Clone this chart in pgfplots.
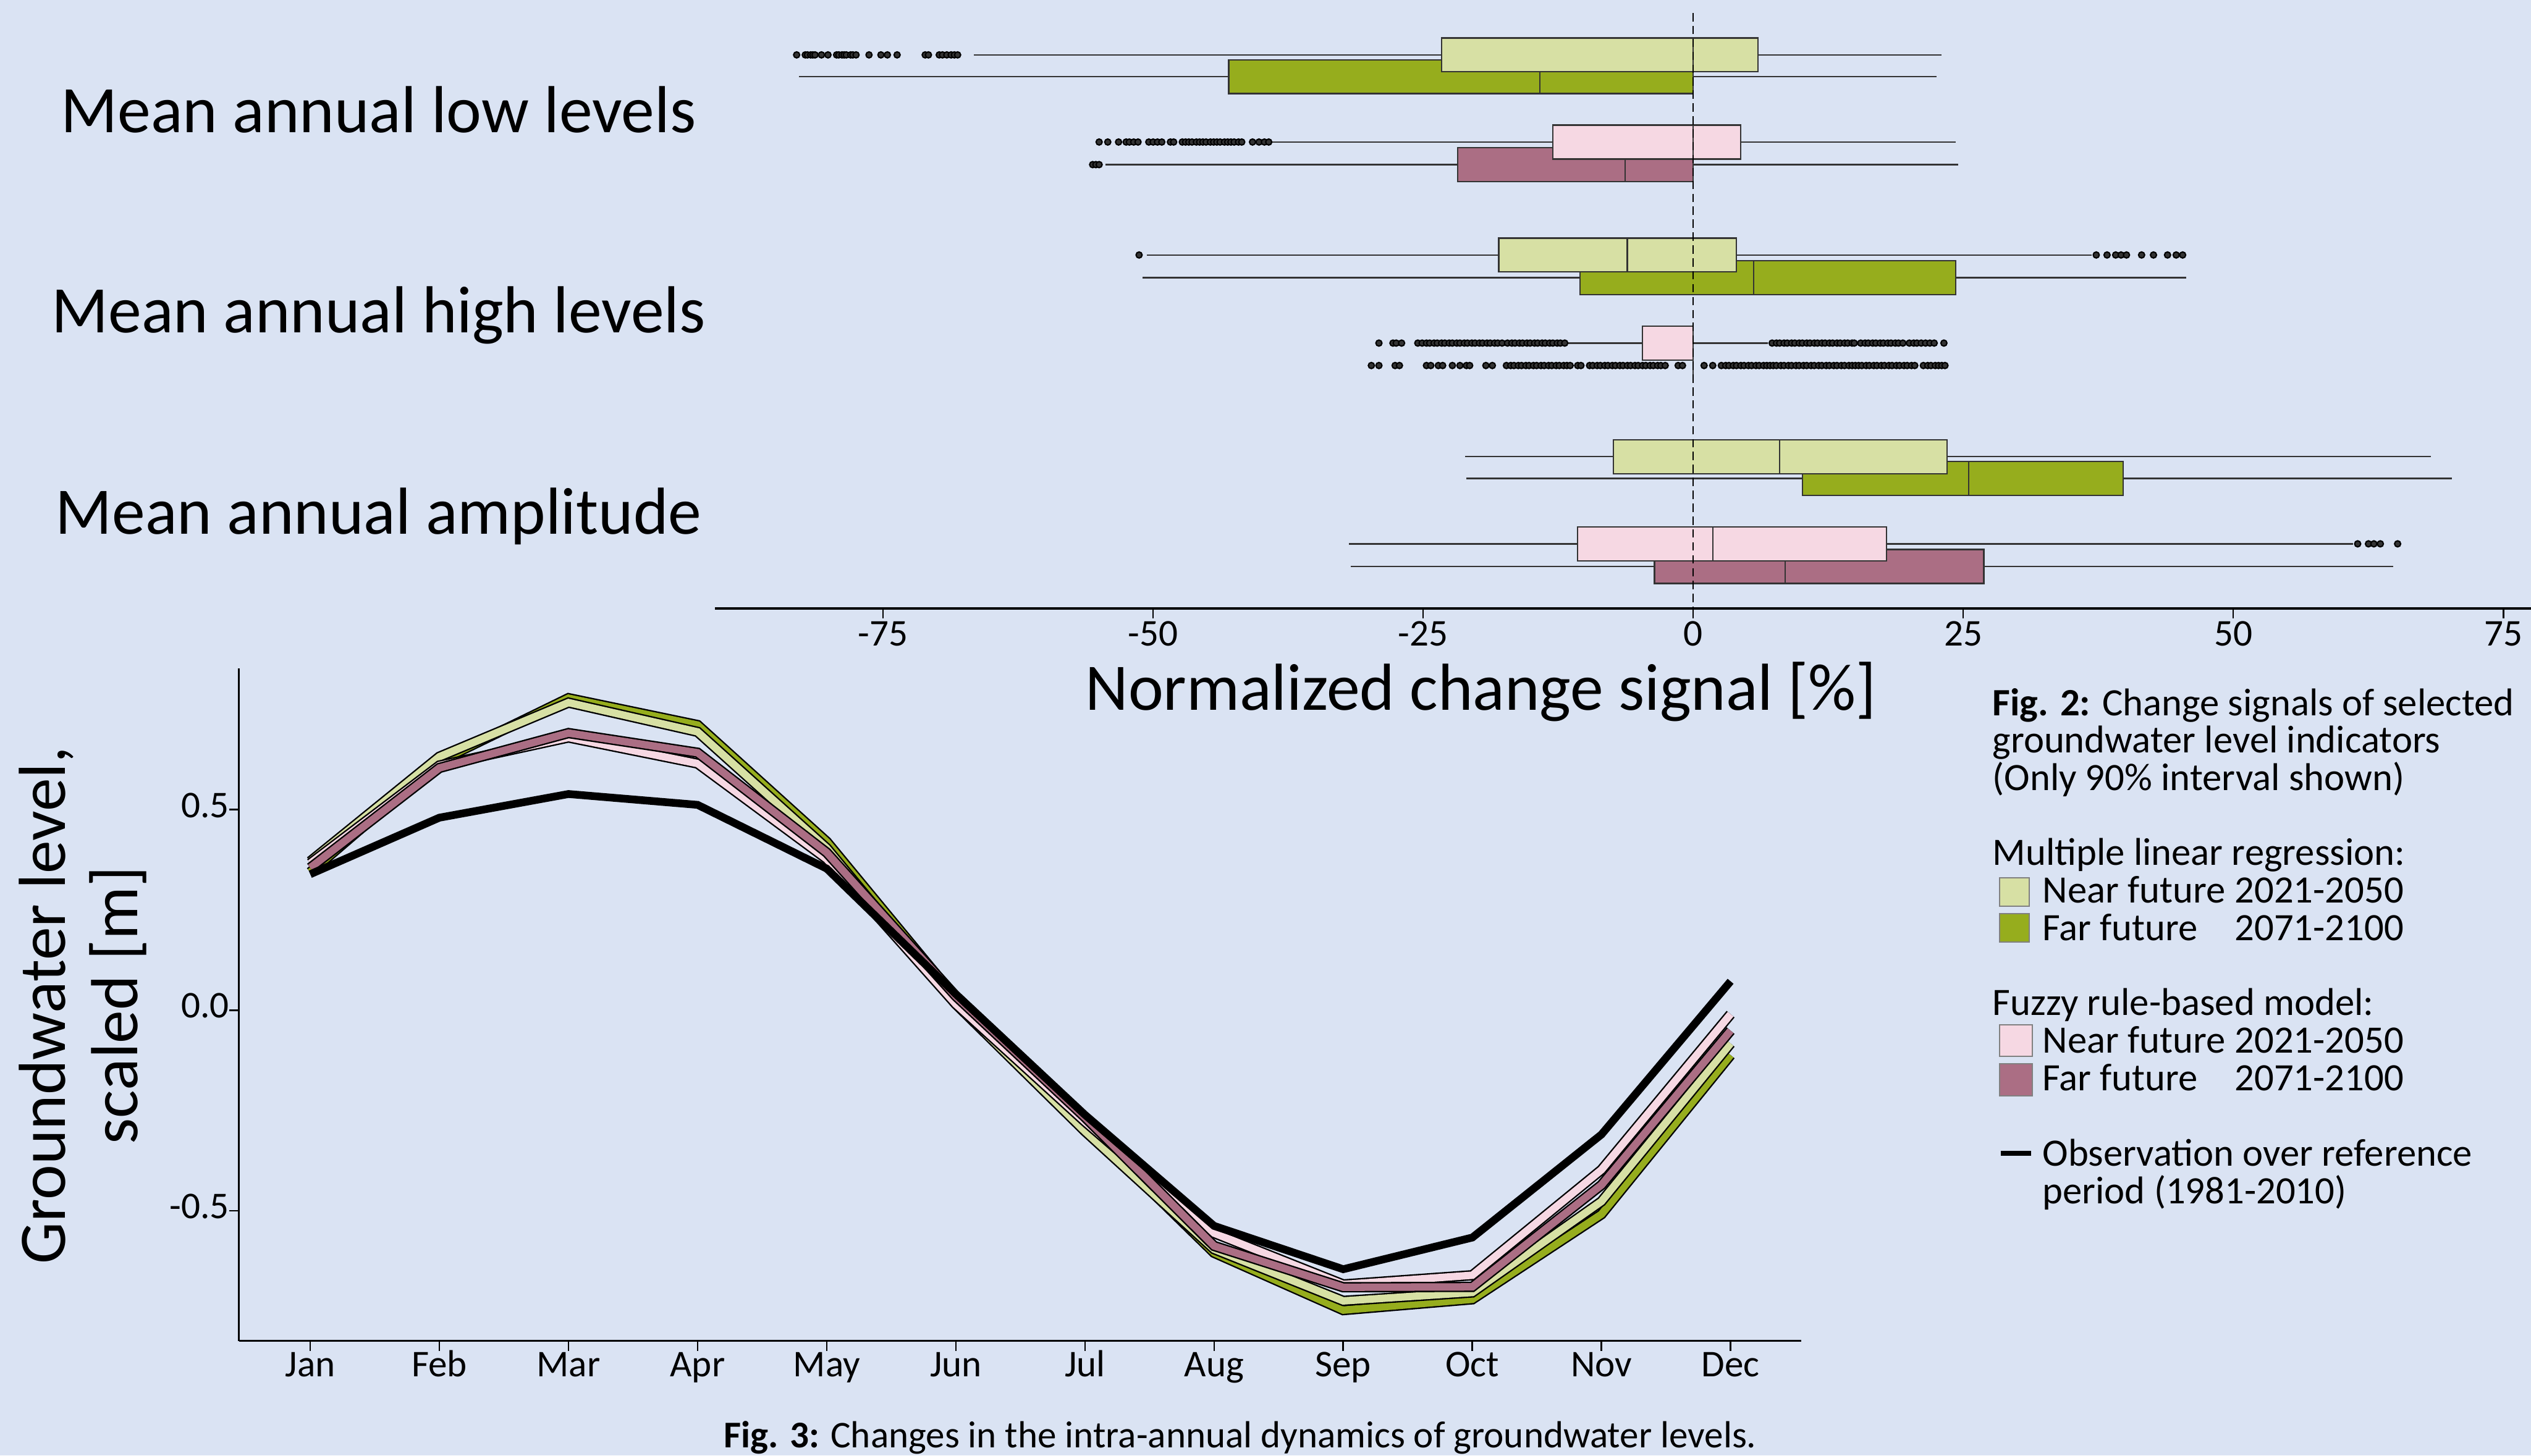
\documentclass[border=0pt]{standalone}
\usepackage{fontspec}
\setmainfont{Carlito}
\usepackage{pgfplots}
\pgfplotsset{compat=1.18}
\usepgfplotslibrary{statistics}
\definecolor{bg}{RGB}{218,227,243}
\definecolor{lgreen}{RGB}{215,224,164}
\definecolor{dgreen}{RGB}{150,173,29}
\definecolor{lpink}{RGB}{246,216,227}
\definecolor{mauve}{RGB}{171,110,132}
\definecolor{edge}{RGB}{51,51,51}
\newcommand{\bigfont}{\fontsize{20.6}{22}\selectfont}
\newcommand{\smallfont}{\fontsize{12}{11.5}\selectfont}
\newcommand{\tickfont}{\fontsize{11.7}{12}\selectfont}
\newcommand{\legbox}[3]{{\setlength{\fboxsep}{0pt}\setlength{\fboxrule}{0.4pt}\fcolorbox{gray}{#1}{\rule{0pt}{#3}\rule{#2}{0pt}}}}
\pgfplotsset{
  bx/.style={draw=edge, line width=0.45pt},
  outl/.style={only marks, mark=*, mark size=0.95pt, mark options={fill=edge, draw=none}},
}
\begin{document}
\begin{tikzpicture}
\begin{scope}[x=0.5pt,y=-0.5pt]
\fill[bg] (0,0) rectangle (1568,902);
\end{scope}

% ---------------- top panel: boxplots ----------------
\begin{axis}[
  at={(221.5pt,-188.5pt)}, anchor=south west,
  scale only axis, width=562.5pt, height=188.5pt,
  xmin=-90.55, xmax=77.55, ymin=-377, ymax=0,
  axis x line=bottom, axis y line=none,
  axis line style={-, line width=0.8pt, black},
  xtick={-75,-50,-25,0,25,50,75},
  xticklabels={-75,-50,-25,0,25,50,75},
  xticklabel style={font=\tickfont, yshift=2.5pt},
  tick align=outside, major tick length=3pt,
  tick style={black, line width=0.4pt},
]
% Mean annual low levels
\addplot[bx, fill=dgreen, boxplot prepared={draw position=-47.5, box extend=21, whisker extend=0,
  lower whisker=-82.8, lower quartile=-43.0, median=-14.2, upper quartile=0, upper whisker=22.5}] coordinates {};
\addplot[bx, fill=lgreen, boxplot prepared={draw position=-34, box extend=21, whisker extend=0,
  lower whisker=-66.6, lower quartile=-23.3, median=0, upper quartile=6.0, upper whisker=23.0}] coordinates {};
\addplot[bx, fill=mauve, boxplot prepared={draw position=-102, box extend=21, whisker extend=0,
  lower whisker=-54.4, lower quartile=-21.8, median=-6.3, upper quartile=0, upper whisker=24.5}] coordinates {};
\addplot[bx, fill=lpink, boxplot prepared={draw position=-88, box extend=21, whisker extend=0,
  lower whisker=-39.1, lower quartile=-13.0, median=0, upper quartile=4.4, upper whisker=24.3}] coordinates {};
% Mean annual high levels
\addplot[bx, fill=dgreen, boxplot prepared={draw position=-172, box extend=21, whisker extend=0,
  lower whisker=-51.0, lower quartile=-10.5, median=5.6, upper quartile=24.3, upper whisker=45.6}] coordinates {};
\addplot[bx, fill=lgreen, boxplot prepared={draw position=-158, box extend=21, whisker extend=0,
  lower whisker=-50.6, lower quartile=-18.0, median=-6.1, upper quartile=4.0, upper whisker=36.9}] coordinates {};
\addplot[bx, fill=mauve, boxplot prepared={draw position=-226.5, box extend=21, whisker extend=0,
  lower whisker=0, lower quartile=0, median=0, upper quartile=0, upper whisker=0}] coordinates {};
\addplot[bx, fill=lpink, boxplot prepared={draw position=-212.6, box extend=21, whisker extend=0,
  lower whisker=-11.6, lower quartile=-4.7, median=0, upper quartile=0, upper whisker=6.9}] coordinates {};
% Mean annual amplitude
\addplot[bx, fill=dgreen, boxplot prepared={draw position=-296.5, box extend=21, whisker extend=0,
  lower whisker=-21.0, lower quartile=10.1, median=25.5, upper quartile=39.8, upper whisker=70.2}] coordinates {};
\addplot[bx, fill=lgreen, boxplot prepared={draw position=-283, box extend=21, whisker extend=0,
  lower whisker=-21.1, lower quartile=-7.4, median=8.0, upper quartile=23.5, upper whisker=68.3}] coordinates {};
\addplot[bx, fill=mauve, boxplot prepared={draw position=-351, box extend=21, whisker extend=0,
  lower whisker=-31.7, lower quartile=-3.6, median=8.5, upper quartile=26.9, upper whisker=64.8}] coordinates {};
\addplot[bx, fill=lpink, boxplot prepared={draw position=-337, box extend=21, whisker extend=0,
  lower whisker=-31.9, lower quartile=-10.7, median=1.8, upper quartile=17.9, upper whisker=61.1}] coordinates {};

% outliers
\addplot[outl] coordinates {
(-83.0,-34) (-82.2,-34) (-82.0,-34) (-81.7,-34) (-81.5,-34) (-81.3,-34) (-80.7,-34) (-80.1,-34)
(-79.3,-34) (-79.1,-34) (-78.8,-34) (-78.6,-34) (-78.4,-34) (-78.0,-34) (-77.8,-34) (-77.5,-34)
(-76.3,-34) (-75.2,-34) (-74.6,-34) (-73.7,-34) (-71.1,-34) (-70.8,-34) (-69.8,-34) (-69.5,-34)
(-69.1,-34) (-68.7,-34) (-68.4,-34) (-68.1,-34)};
\addplot[outl] coordinates {
(-55.0,-88) (-54.2,-88) (-53.2,-88) (-52.5,-88) (-52.2,-88) (-51.8,-88) (-51.4,-88) (-50.4,-88)
(-50.0,-88) (-49.6,-88) (-49.2,-88) (-48.4,-88) (-48.1,-88) (-47.3,-88) (-47.0,-88) (-46.7,-88)
(-46.4,-88) (-46.0,-88) (-45.7,-88) (-45.4,-88) (-45.1,-88) (-44.7,-88) (-44.4,-88) (-44.1,-88)
(-43.8,-88) (-43.4,-88) (-43.1,-88) (-42.8,-88) (-42.5,-88) (-42.1,-88) (-41.8,-88) (-40.8,-88)
(-40.2,-88) (-39.7,-88) (-39.3,-88)};
\addplot[outl] coordinates {(-55.6,-102) (-55.3,-102) (-55.0,-102)};
\addplot[outl] coordinates {
(-51.3,-158) (37.3,-158) (38.3,-158) (39.1,-158) (39.6,-158) (40.1,-158) (41.5,-158) (42.6,-158)
(43.9,-158) (44.7,-158) (45.3,-158)};
\addplot[outl] coordinates {
(-29.1,-212.6) (-27.8,-212.6) (-27.5,-212.6) (-27.0,-212.6) (-25.5,-212.6) (-25.1,-212.6) (-24.7,-212.6)
(-24.4,-212.6) (-24.0,-212.6) (-23.7,-212.6) (-23.3,-212.6) (-23.0,-212.6) (-22.6,-212.6) (-22.3,-212.6)
(-21.9,-212.6) (-21.6,-212.6) (-21.2,-212.6) (-20.9,-212.6) (-20.5,-212.6) (-20.2,-212.6) (-19.8,-212.6)
(-19.5,-212.6) (-19.1,-212.6) (-18.8,-212.6) (-18.4,-212.6) (-18.1,-212.6) (-17.7,-212.6) (-17.2,-212.6)
(-16.8,-212.6) (-16.5,-212.6) (-16.1,-212.6) (-15.8,-212.6) (-15.4,-212.6) (-15.1,-212.6) (-14.7,-212.6)
(-14.4,-212.6) (-14.0,-212.6) (-13.7,-212.6) (-13.3,-212.6) (-13.0,-212.6) (-12.6,-212.6) (-12.3,-212.6)
(-11.9,-212.6)
(7.3,-212.6) (7.7,-212.6) (8.0,-212.6) (8.4,-212.6) (8.7,-212.6) (9.1,-212.6) (9.4,-212.6) (9.8,-212.6)
(10.1,-212.6) (10.5,-212.6) (10.8,-212.6) (11.2,-212.6) (11.5,-212.6) (11.9,-212.6) (12.2,-212.6)
(12.6,-212.6) (12.9,-212.6) (13.3,-212.6) (13.6,-212.6) (14.0,-212.6) (14.3,-212.6) (14.7,-212.6)
(14.9,-212.6) (15.5,-212.6) (15.9,-212.6) (16.2,-212.6) (16.6,-212.6) (16.9,-212.6) (17.3,-212.6)
(17.6,-212.6) (18.0,-212.6) (18.3,-212.6) (18.7,-212.6) (19.0,-212.6) (19.4,-212.6) (20.0,-212.6)
(20.4,-212.6) (20.7,-212.6) (21.1,-212.6) (21.5,-212.6) (21.9,-212.6) (22.3,-212.6) (23.2,-212.6)};
\addplot[outl] coordinates {
(-29.8,-226.5) (-29.1,-226.5) (-27.6,-226.5) (-27.2,-226.5) (-24.7,-226.5) (-24.3,-226.5) (-23.6,-226.5)
(-23.2,-226.5) (-22.3,-226.5) (-21.6,-226.5) (-21.0,-226.5) (-20.7,-226.5) (-19.2,-226.5) (-18.6,-226.5)
(-17.3,-226.5) (-16.9,-226.5) (-16.6,-226.5) (-16.2,-226.5) (-15.9,-226.5) (-15.5,-226.5) (-15.2,-226.5)
(-14.8,-226.5) (-14.5,-226.5) (-14.1,-226.5) (-13.8,-226.5) (-13.4,-226.5) (-13.1,-226.5) (-12.7,-226.5)
(-12.4,-226.5) (-12.0,-226.5) (-11.7,-226.5) (-11.4,-226.5) (-10.7,-226.5) (-10.4,-226.5) (-9.6,-226.5)
(-9.3,-226.5) (-8.9,-226.5) (-8.6,-226.5) (-8.2,-226.5) (-7.9,-226.5) (-7.5,-226.5) (-7.2,-226.5)
(-6.8,-226.5) (-6.5,-226.5) (-6.1,-226.5) (-5.8,-226.5) (-5.4,-226.5) (-5.1,-226.5) (-4.7,-226.5)
(-4.4,-226.5) (-4.0,-226.5) (-3.7,-226.5) (-3.3,-226.5) (-3.0,-226.5) (-2.6,-226.5) (-1.4,-226.5)
(-1.0,-226.5)
(1.0,-226.5) (1.8,-226.5) (2.6,-226.5) (3.0,-226.5) (3.3,-226.5) (3.7,-226.5) (4.0,-226.5) (4.4,-226.5)
(4.7,-226.5) (5.1,-226.5) (5.4,-226.5) (5.8,-226.5) (6.1,-226.5) (6.5,-226.5) (6.8,-226.5) (7.1,-226.5)
(7.4,-226.5) (7.7,-226.5) (8.1,-226.5) (8.4,-226.5) (8.8,-226.5) (9.1,-226.5) (9.5,-226.5) (9.8,-226.5)
(10.2,-226.5) (10.5,-226.5) (10.9,-226.5) (11.2,-226.5) (11.6,-226.5) (11.9,-226.5) (12.3,-226.5)
(12.6,-226.5) (13.0,-226.5) (13.3,-226.5) (13.7,-226.5) (14.0,-226.5) (14.4,-226.5) (14.7,-226.5)
(15.0,-226.5) (15.3,-226.5) (15.6,-226.5) (16.0,-226.5) (16.3,-226.5) (16.7,-226.5) (17.0,-226.5)
(17.4,-226.5) (17.7,-226.5) (18.1,-226.5) (18.4,-226.5) (18.8,-226.5) (19.1,-226.5) (19.5,-226.5)
(19.8,-226.5) (20.2,-226.5) (20.5,-226.5) (21.3,-226.5) (21.7,-226.5) (22.0,-226.5) (22.4,-226.5)
(22.7,-226.5) (23.0,-226.5) (23.3,-226.5)};
\addplot[outl] coordinates {(61.5,-337) (62.5,-337) (63.0,-337) (63.6,-337) (65.2,-337)};
% zero line
\addplot[black, line width=0.45pt, dash pattern=on 2.6pt off 1.4pt] coordinates {(0,-8) (0,-377)};
\end{axis}

% ---------------- bottom panel: lines ----------------
\begin{axis}[
  at={(74pt,-415.5pt)}, anchor=south west,
  scale only axis, width=483.9pt, height=208.5pt,
  xmin=0.4475, xmax=12.546, ymin=-0.825, ymax=0.853,
  axis x line=bottom, axis y line=left,
  axis line style={-, line width=0.6pt, black},
  xtick={1,2,3,4,5,6,7,8,9,10,11,12},
  xticklabels={Jan,Feb,Mar,Apr,May,Jun,Jul,Aug,Sep,Oct,Nov,Dec},
  ytick={-0.5,0,0.5}, yticklabels={-0.5,0.0,0.5},
  ticklabel style={font=\tickfont},
  typeset ticklabels with strut,
  xticklabel style={yshift=3.8pt},
  yticklabel style={xshift=3.5pt},
  tick align=outside, major tick length=3pt,
  tick style={black, line width=0.5pt},
]
\addplot[black, line width=3.2pt] coordinates {(1,0.344) (2,0.621) (3,0.778) (4,0.711) (5,0.420) (6,0.030) (7,-0.290) (8,-0.605) (9,-0.748) (10,-0.721) (11,-0.509) (12,-0.112)};
\addplot[dgreen, line width=2.3pt] coordinates {(1,0.344) (2,0.621) (3,0.778) (4,0.711) (5,0.420) (6,0.030) (7,-0.290) (8,-0.605) (9,-0.748) (10,-0.721) (11,-0.509) (12,-0.112)};
\addplot[black, line width=3.2pt] coordinates {(1,0.371) (2,0.632) (3,0.767) (4,0.694) (5,0.404) (6,0.015) (7,-0.302) (8,-0.596) (9,-0.725) (10,-0.704) (11,-0.477) (12,-0.083)};
\addplot[lgreen, line width=2.3pt] coordinates {(1,0.371) (2,0.632) (3,0.767) (4,0.694) (5,0.404) (6,0.015) (7,-0.302) (8,-0.596) (9,-0.725) (10,-0.704) (11,-0.477) (12,-0.083)};
\addplot[black, line width=3.2pt] coordinates {(1,0.366) (2,0.610) (3,0.680) (4,0.615) (5,0.377) (6,0.015) (7,-0.278) (8,-0.556) (9,-0.684) (10,-0.661) (11,-0.398) (12,-0.010)};
\addplot[lpink, line width=2.3pt] coordinates {(1,0.366) (2,0.610) (3,0.680) (4,0.615) (5,0.377) (6,0.015) (7,-0.278) (8,-0.556) (9,-0.684) (10,-0.661) (11,-0.398) (12,-0.010)};
\addplot[black, line width=3.2pt] coordinates {(1,0.355) (2,0.604) (3,0.691) (4,0.642) (5,0.393) (6,0.035) (7,-0.267) (8,-0.588) (9,-0.691) (10,-0.690) (11,-0.436) (12,-0.051)};
\addplot[mauve, line width=2.3pt] coordinates {(1,0.355) (2,0.604) (3,0.691) (4,0.642) (5,0.393) (6,0.035) (7,-0.267) (8,-0.588) (9,-0.691) (10,-0.690) (11,-0.436) (12,-0.051)};
\addplot[black, line width=2.4pt] coordinates {(1,0.339) (2,0.480) (3,0.539) (4,0.512) (5,0.353) (6,0.040) (7,-0.261) (8,-0.538) (9,-0.646) (10,-0.567) (11,-0.310) (12,0.072)};
\end{axis}

% ---------------- texts ----------------
\begin{scope}[x=0.5pt,y=-0.5pt]
\node[anchor=base, inner sep=0, font=\bigfont] at (234.5,82) {Mean annual low levels};
\node[anchor=base, inner sep=0, font=\bigfont] at (234.5,206) {Mean annual high levels};
\node[anchor=base, inner sep=0, font=\bigfont] at (234.5,331) {Mean annual amplitude};
\node[anchor=base west, inner sep=0, font=\bigfont] at (672,440) {Normalized change signal [\%]};
\node[anchor=base, inner sep=0, rotate=90, font=\bigfont] at (40.5,623) {Groundwater level,};
\node[anchor=base, inner sep=0, rotate=90, font=\bigfont] at (85,623) {scaled [m]};

\begin{scope}[every node/.style={anchor=base west, inner sep=0, font=\smallfont}]
\node at (1234,443.3) {\textbf{Fig. 2:} Change signals of selected};
\node at (1234,466.5) {groundwater level indicators};
\node at (1234,489.8) {(Only 90\% interval shown)};
\node at (1234,536.3) {Multiple linear regression:};
\node at (1265,559.6) {Near future};
\node at (1384,559.6) {2021-2050};
\node at (1265,582.9) {Far future};
\node at (1384,582.9) {2071-2100};
\node at (1234,629) {Fuzzy rule-based model:};
\node at (1265,652.6) {Near future};
\node at (1384,652.6) {2021-2050};
\node at (1265,676) {Far future};
\node at (1384,676) {2071-2100};
\node at (1265,722.4) {Observation over reference};
\node at (1265,745.7) {period (1981-2010)};
\node at (448,897) {\fontsize{11.7}{12}\selectfont\textbf{Fig. 3:} Changes in the intra-annual dynamics of groundwater levels.};
\end{scope}
\node[anchor=south west, inner sep=0] at (1238,562.5) {\legbox{lgreen}{8.7pt}{8.45pt}};
\node[anchor=south west, inner sep=0] at (1238,584.6) {\legbox{dgreen}{8.7pt}{8.45pt}};
\node[anchor=south west, inner sep=0] at (1238,655.5) {\legbox{lpink}{9.7pt}{9.5pt}};
\node[anchor=south west, inner sep=0] at (1238,679.9) {\legbox{mauve}{9.7pt}{9.5pt}};
\node[anchor=west, inner sep=0] at (1239,714.7) {\rule{9.5pt}{1.5pt}};
\end{scope}

\pgfresetboundingbox
\useasboundingbox (0pt,0pt) rectangle (784pt,-451pt);
\end{tikzpicture}
\end{document}
